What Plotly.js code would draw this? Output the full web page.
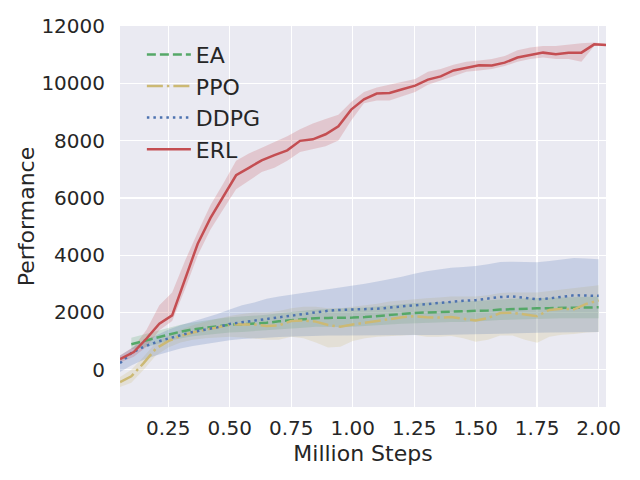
<!DOCTYPE html>
<html>
<head>
<meta charset="utf-8">
<script src="https://cdn.plot.ly/plotly-3.0.1.min.js"></script>
<style>html,body{margin:0;padding:0;background:#fff;}#chart{width:640px;height:480px;}</style>
</head>
<body>
<div id="chart"></div>
<script>
// ---- data ----
var baseSteps = [0.054,0.10,0.15,0.20,0.25,0.30,0.35,0.40,0.45,0.50,0.55,0.60,0.65,0.70,0.75,0.80,0.85,0.90,0.95,1.00,1.05,1.10,1.15,1.20,1.25,1.30,1.35,1.40,1.45,1.50,1.55,1.60,1.65,1.70,1.75,1.80,1.85,1.90,1.95,2.00];
var eaSteps = [0.10,0.15,0.20,0.25,0.30,0.35,0.40,0.45,0.50,0.55,0.60,0.65,0.70,0.75,0.80,0.85,0.90,0.95,1.00,1.05,1.10,1.15,1.20,1.25,1.30,1.35,1.40,1.45,1.50,1.55,1.60,1.65,1.70,1.75,1.80,1.85,1.90,1.95,2.00];
var erlSteps = [0.054,0.110,0.162,0.214,0.266,0.318,0.370,0.422,0.474,0.526,0.578,0.630,0.682,0.734,0.786,0.838,0.890,0.942,0.994,1.046,1.098,1.150,1.202,1.254,1.306,1.358,1.410,1.462,1.514,1.566,1.618,1.670,1.722,1.774,1.826,1.878,1.930,1.982,2.030];

var eaMean  = [890,1000,1110,1230,1330,1410,1470,1520,1570,1590,1610,1640,1690,1730,1770,1800,1810,1810,1820,1840,1880,1920,1950,1980,2000,2015,2025,2030,2040,2070,2100,2120,2130,2145,2150,2155,2160,2170,2180];
var eaUpper = [1120,1230,1340,1460,1570,1650,1720,1780,1830,1860,1880,1920,1970,2020,2070,2100,2120,2130,2140,2170,2210,2260,2290,2330,2350,2370,2380,2390,2400,2430,2460,2480,2490,2500,2510,2510,2520,2530,2560];
var eaLower = [720,780,880,1000,1090,1170,1220,1260,1300,1320,1340,1360,1410,1440,1470,1500,1500,1490,1500,1510,1550,1580,1610,1630,1650,1660,1670,1670,1680,1710,1740,1760,1770,1790,1790,1800,1800,1810,1800];

var ppoMean  = [-430,-230,230,740,1000,1180,1300,1400,1480,1570,1590,1580,1530,1550,1700,1720,1680,1560,1500,1580,1640,1720,1780,1830,1870,1830,1820,1840,1780,1720,1800,1980,1990,1930,1870,2090,2130,2110,2300,2420];
var ppoUpper = [-250,0,450,950,1200,1400,1550,1680,1780,1880,1950,2000,2000,2050,2150,2200,2200,2150,2150,2200,2250,2300,2380,2420,2480,2500,2520,2560,2560,2560,2600,2680,2700,2700,2700,2750,2800,2850,2920,2950];
var ppoLower = [-600,-450,0,500,780,950,1050,1100,1130,1150,1130,1100,1050,1050,1150,1100,950,780,800,1000,1100,1150,1180,1200,1220,1150,1150,1180,1100,980,1050,1200,1200,1050,940,1150,1220,1250,1300,1320];

var ddpgMean  = [230,580,800,960,1090,1210,1320,1400,1480,1600,1660,1720,1780,1840,1900,1960,2020,2060,2090,2100,2110,2130,2170,2210,2250,2300,2350,2390,2410,2430,2480,2540,2560,2520,2460,2490,2540,2600,2590,2580];
var ddpgUpper = [500,750,1000,1200,1400,1550,1680,1800,1950,2100,2250,2350,2480,2560,2620,2680,2750,2800,2870,2930,3000,3080,3160,3250,3350,3440,3500,3560,3590,3620,3680,3760,3770,3760,3750,3800,3860,3900,3880,3860];
var ddpgLower = [-80,150,350,500,620,740,830,900,970,1030,1070,1100,1120,1140,1160,1180,1190,1200,1200,1200,1200,1205,1205,1210,1210,1215,1215,1220,1220,1220,1235,1250,1265,1280,1290,1300,1310,1320,1320,1320];

var erlMean  = [370,620,1090,1610,1900,3150,4400,5300,6050,6790,7050,7310,7490,7660,7990,8045,8220,8500,9080,9440,9640,9660,9790,9920,10130,10240,10450,10550,10630,10620,10720,10900,10990,11070,11010,11070,11070,11360,11340];
var erlUpper = [500,800,1400,2250,2700,3800,4800,5750,6500,7300,7550,7750,7950,8150,8400,8600,8750,8900,9350,9700,9850,9950,10050,10150,10400,10500,10650,10750,10800,10850,10950,11150,11250,11300,11300,11350,11400,11420,11380];
var erlLower = [250,450,800,1380,1700,2800,4000,4900,5600,6300,6600,6900,7050,7300,7600,7700,7800,8000,8700,9300,9400,9400,9550,9700,9950,10100,10250,10400,10450,10500,10600,10750,10850,10900,10850,10850,10750,11300,11300];

var xTickVals = [0.25,0.50,0.75,1.00,1.25,1.50,1.75,2.00];
var xTickText = ['0.25','0.50','0.75','1.00','1.25','1.50','1.75','2.00'];
var yTickVals = [0,2000,4000,6000,8000,10000,12000];
var yTickText = ['0','2000','4000','6000','8000','10000','12000'];

var seriesNames = ['EA','PPO','DDPG','ERL'];
var seriesColors = ['#55A868','#CCB974','#4C72B0','#C44E52'];
var bandColors = ['rgba(85,168,104,0.22)','rgba(204,185,116,0.22)','rgba(76,114,176,0.22)','rgba(196,78,82,0.22)'];
var dashes = ['9px,4px','16px,4px,2.5px,4px','2.5px,4px','solid'];

var sets = [
  [eaSteps, eaMean, eaUpper, eaLower],
  [baseSteps, ppoMean, ppoUpper, ppoLower],
  [baseSteps, ddpgMean, ddpgUpper, ddpgLower],
  [erlSteps, erlMean, erlUpper, erlLower]
];

var traces = [];
sets.forEach(function(s, i){
  var xs = s[0];
  traces.push({
    x: xs.concat(xs.slice().reverse()),
    y: s[2].concat(s[3].slice().reverse()),
    type: 'scatter', mode: 'lines', fill: 'toself',
    fillcolor: bandColors[i], line: {width: 0, color: 'rgba(0,0,0,0)'},
    hoverinfo: 'skip', showlegend: false, legendgroup: seriesNames[i]
  });
});
sets.forEach(function(s, i){
  traces.push({
    x: s[0], y: s[1], type: 'scatter', mode: 'lines', name: seriesNames[i],
    legendgroup: seriesNames[i],
    line: {color: seriesColors[i], width: 2.5, dash: dashes[i]}
  });
});

var txt = '#262626';
var layout = {
  width: 640, height: 480,
  margin: {l: 120, r: 34, t: 26, b: 73, pad: 0},
  paper_bgcolor: '#ffffff', plot_bgcolor: '#EAEAF2',
  font: {family: 'DejaVu Sans', color: txt, size: 20},
  showlegend: true,
  legend: {x: 0.045, y: 0.98, xanchor: 'left', yanchor: 'top', bgcolor: 'rgba(0,0,0,0)',
    font: {size: 22, color: txt, family: 'DejaVu Sans'}, traceorder: 'grouped', tracegroupgap: 0, itemwidth: 44},
  xaxis: {range: [0.054, 2.03], tickmode: 'array', tickvals: xTickVals, ticktext: xTickText,
    showgrid: true, gridcolor: '#ffffff', gridwidth: 1.3, zeroline: false, showline: false,
    ticks: 'outside', ticklen: 3, tickcolor: 'rgba(0,0,0,0)', tickfont: {size: 20, color: txt},
    title: {text: 'Million Steps', font: {size: 22, color: txt}, standoff: 6}},
  yaxis: {range: [-1300, 12000], tickmode: 'array', tickvals: yTickVals, ticktext: yTickText,
    showgrid: true, gridcolor: '#ffffff', gridwidth: 1.3, zeroline: false, showline: false,
    ticks: 'outside', ticklen: 10, tickcolor: 'rgba(0,0,0,0)', tickfont: {size: 20, color: txt},
    title: {text: 'Performance', font: {size: 22, color: txt}, standoff: 0}}
};

Plotly.newPlot('chart', traces, layout, {staticPlot: true, displayModeBar: false});
</script>
</body>
</html>
